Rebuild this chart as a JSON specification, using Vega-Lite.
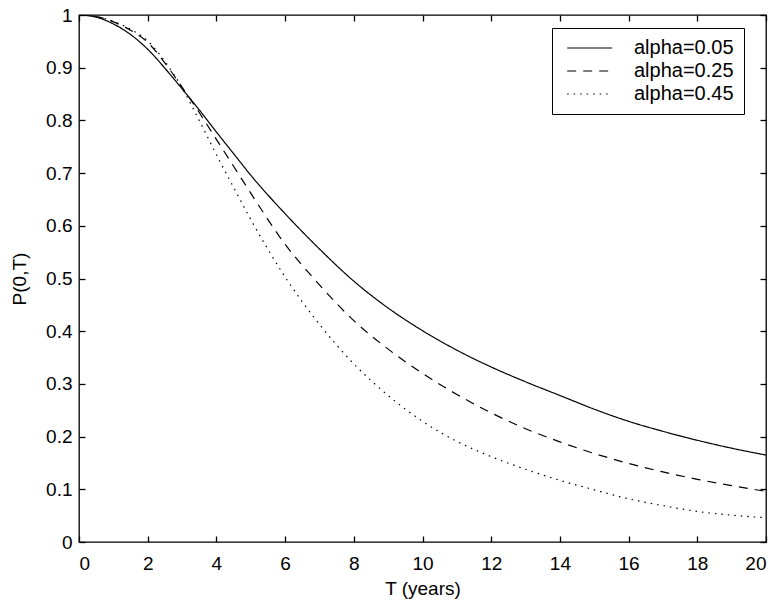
{
  "$schema": "https://vega.github.io/schema/vega-lite/v6.json",
  "width": 687,
  "height": 527,
  "autosize": {"type": "none"},
  "padding": {"left": 79, "top": 15, "right": 14, "bottom": 58},
  "background": "white",
  "config": {
    "font": "Liberation Sans",
    "view": {"stroke": "black", "strokeWidth": 1.3},
    "axis": {
      "zindex": 2,
      "domain": false,
      "grid": false,
      "labelColor": "black",
      "labelFont": "Liberation Sans",
      "labelFontSize": 19,
      "titleColor": "black",
      "titleFont": "Liberation Sans",
      "titleFontSize": 19,
      "titleFontWeight": "normal"
    }
  },
  "data": {
    "values": [
      {"T": 0, "P": 1.0, "s": "alpha=0.05"},
      {"T": 0.5, "P": 0.996, "s": "alpha=0.05"},
      {"T": 1, "P": 0.983, "s": "alpha=0.05"},
      {"T": 1.5, "P": 0.963, "s": "alpha=0.05"},
      {"T": 2, "P": 0.935, "s": "alpha=0.05"},
      {"T": 2.5, "P": 0.899, "s": "alpha=0.05"},
      {"T": 3, "P": 0.86, "s": "alpha=0.05"},
      {"T": 3.5, "P": 0.82, "s": "alpha=0.05"},
      {"T": 4, "P": 0.778, "s": "alpha=0.05"},
      {"T": 4.5, "P": 0.737, "s": "alpha=0.05"},
      {"T": 5, "P": 0.696, "s": "alpha=0.05"},
      {"T": 6, "P": 0.623, "s": "alpha=0.05"},
      {"T": 7, "P": 0.556, "s": "alpha=0.05"},
      {"T": 8, "P": 0.495, "s": "alpha=0.05"},
      {"T": 9, "P": 0.444, "s": "alpha=0.05"},
      {"T": 10, "P": 0.401, "s": "alpha=0.05"},
      {"T": 11, "P": 0.364, "s": "alpha=0.05"},
      {"T": 12, "P": 0.332, "s": "alpha=0.05"},
      {"T": 13, "P": 0.304, "s": "alpha=0.05"},
      {"T": 14, "P": 0.278, "s": "alpha=0.05"},
      {"T": 15, "P": 0.252, "s": "alpha=0.05"},
      {"T": 16, "P": 0.229, "s": "alpha=0.05"},
      {"T": 17, "P": 0.21, "s": "alpha=0.05"},
      {"T": 18, "P": 0.193, "s": "alpha=0.05"},
      {"T": 19, "P": 0.178, "s": "alpha=0.05"},
      {"T": 20, "P": 0.165, "s": "alpha=0.05"},
      {"T": 0, "P": 1.0, "s": "alpha=0.25"},
      {"T": 0.5, "P": 0.997, "s": "alpha=0.25"},
      {"T": 1, "P": 0.987, "s": "alpha=0.25"},
      {"T": 1.5, "P": 0.971, "s": "alpha=0.25"},
      {"T": 2, "P": 0.948, "s": "alpha=0.25"},
      {"T": 2.5, "P": 0.909, "s": "alpha=0.25"},
      {"T": 3, "P": 0.863, "s": "alpha=0.25"},
      {"T": 3.5, "P": 0.815, "s": "alpha=0.25"},
      {"T": 4, "P": 0.764, "s": "alpha=0.25"},
      {"T": 4.5, "P": 0.713, "s": "alpha=0.25"},
      {"T": 5, "P": 0.662, "s": "alpha=0.25"},
      {"T": 6, "P": 0.565, "s": "alpha=0.25"},
      {"T": 7, "P": 0.488, "s": "alpha=0.25"},
      {"T": 8, "P": 0.42, "s": "alpha=0.25"},
      {"T": 9, "P": 0.366, "s": "alpha=0.25"},
      {"T": 10, "P": 0.32, "s": "alpha=0.25"},
      {"T": 11, "P": 0.28, "s": "alpha=0.25"},
      {"T": 12, "P": 0.245, "s": "alpha=0.25"},
      {"T": 13, "P": 0.215, "s": "alpha=0.25"},
      {"T": 14, "P": 0.19, "s": "alpha=0.25"},
      {"T": 15, "P": 0.168, "s": "alpha=0.25"},
      {"T": 16, "P": 0.149, "s": "alpha=0.25"},
      {"T": 17, "P": 0.133, "s": "alpha=0.25"},
      {"T": 18, "P": 0.119, "s": "alpha=0.25"},
      {"T": 19, "P": 0.107, "s": "alpha=0.25"},
      {"T": 20, "P": 0.096, "s": "alpha=0.25"},
      {"T": 0, "P": 1.0, "s": "alpha=0.45"},
      {"T": 0.5, "P": 0.997, "s": "alpha=0.45"},
      {"T": 1, "P": 0.988, "s": "alpha=0.45"},
      {"T": 1.5, "P": 0.973, "s": "alpha=0.45"},
      {"T": 2, "P": 0.951, "s": "alpha=0.45"},
      {"T": 2.5, "P": 0.912, "s": "alpha=0.45"},
      {"T": 3, "P": 0.862, "s": "alpha=0.45"},
      {"T": 3.5, "P": 0.8, "s": "alpha=0.45"},
      {"T": 4, "P": 0.735, "s": "alpha=0.45"},
      {"T": 4.5, "P": 0.673, "s": "alpha=0.45"},
      {"T": 5, "P": 0.612, "s": "alpha=0.45"},
      {"T": 6, "P": 0.503, "s": "alpha=0.45"},
      {"T": 7, "P": 0.413, "s": "alpha=0.45"},
      {"T": 8, "P": 0.338, "s": "alpha=0.45"},
      {"T": 9, "P": 0.278, "s": "alpha=0.45"},
      {"T": 10, "P": 0.229, "s": "alpha=0.45"},
      {"T": 11, "P": 0.191, "s": "alpha=0.45"},
      {"T": 12, "P": 0.162, "s": "alpha=0.45"},
      {"T": 13, "P": 0.138, "s": "alpha=0.45"},
      {"T": 14, "P": 0.117, "s": "alpha=0.45"},
      {"T": 15, "P": 0.099, "s": "alpha=0.45"},
      {"T": 16, "P": 0.082, "s": "alpha=0.45"},
      {"T": 17, "P": 0.069, "s": "alpha=0.45"},
      {"T": 18, "P": 0.058, "s": "alpha=0.45"},
      {"T": 19, "P": 0.051, "s": "alpha=0.45"},
      {"T": 20, "P": 0.046, "s": "alpha=0.45"}
    ]
  },
  "layer": [
    {
      "mark": {"type": "line", "color": "black", "strokeWidth": 1.2, "interpolate": "monotone", "clip": true},
      "encoding": {
        "x": {
          "field": "T", "type": "quantitative",
          "scale": {"domain": [0, 20], "nice": false},
          "axis": {"orient": "bottom", "values": [0,2,4,6,8,10,12,14,16,18,20], "title": "T (years)", "ticks": true, "tickSize": 6, "tickWidth": 1.3, "tickColor": "#000000", "tickOpacity": 1, "offset": -6, "labelPadding": 12, "titlePadding": 6}
        },
        "y": {
          "field": "P", "type": "quantitative",
          "scale": {"domain": [0, 1], "nice": false},
          "axis": {"orient": "left", "values": [0,0.1,0.2,0.3,0.4,0.5,0.6,0.7,0.8,0.9,1], "format": "~g", "title": "P(0,T)", "ticks": true, "tickSize": 6, "tickWidth": 1.3, "tickColor": "#000000", "tickOpacity": 1, "offset": -6, "labelPadding": 7, "titlePadding": 16}
        },
        "strokeDash": {
          "field": "s", "type": "nominal",
          "scale": {"domain": ["alpha=0.05", "alpha=0.25", "alpha=0.45"], "range": [[1, 0], [9, 7], [1.5, 5]]},
          "legend": {
            "title": null,
            "orient": "none",
            "legendX": 473,
            "legendY": 13,
            "symbolType": "M-1.07,0H8.93",
            "symbolSize": 81,
            "symbolStrokeColor": "black",
            "symbolStrokeWidth": 1.2,
            "labelFontSize": 20,
            "labelFont": "Liberation Sans",
            "labelColor": "black",
            "labelOffset": 52,
            "rowPadding": 3,
            "padding": 10,
            "strokeColor": "black",
            "fillColor": "white",
            "cornerRadius": 0
          }
        }
      }
    },
    {
      "mark": {"type": "line", "opacity": 0},
      "encoding": {
        "x": {
          "field": "T", "type": "quantitative",
          "axis": {"orient": "top", "labels": false, "title": null, "ticks": true, "tickSize": 6, "tickWidth": 1.3, "tickColor": "#000000", "tickOpacity": 1, "offset": -6, "values": [0,2,4,6,8,10,12,14,16,18,20]}
        },
        "y": {
          "field": "P", "type": "quantitative",
          "axis": {"orient": "right", "labels": false, "title": null, "ticks": true, "tickSize": 6, "tickWidth": 1.3, "tickColor": "#000000", "tickOpacity": 1, "offset": -6, "values": [0,0.1,0.2,0.3,0.4,0.5,0.6,0.7,0.8,0.9,1]}
        }
      }
    }
  ],
  "resolve": {"axis": {"x": "independent", "y": "independent"}}
}
